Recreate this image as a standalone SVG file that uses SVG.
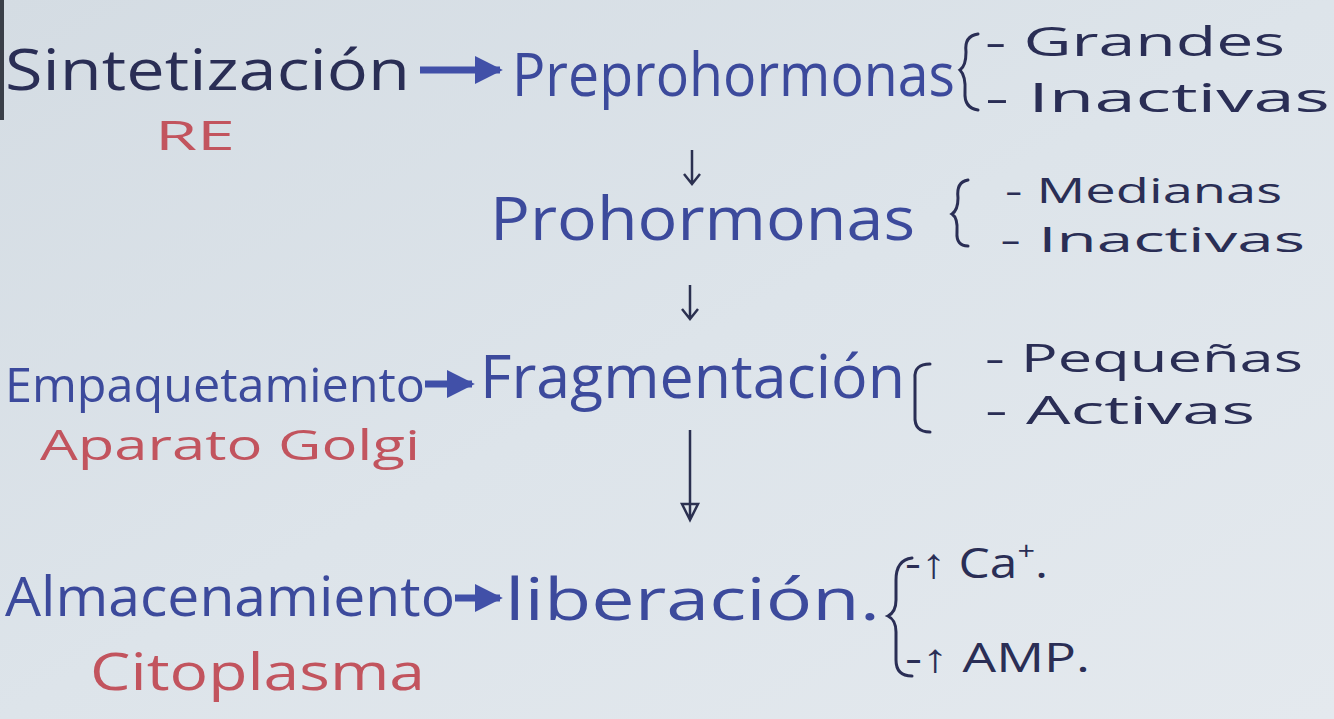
<svg xmlns="http://www.w3.org/2000/svg" width="1334" height="719" viewBox="0 0 1334 719">
<defs>
<linearGradient id="bg" x1="0" y1="0" x2="1" y2="1">
<stop offset="0" stop-color="#d4dce3"/>
<stop offset="0.5" stop-color="#dde4ea"/>
<stop offset="1" stop-color="#e4e9ee"/>
</linearGradient>
<marker id="fat" viewBox="0 0 10 10" refX="9" refY="5" markerWidth="4" markerHeight="4" orient="auto" markerUnits="strokeWidth">
<path d="M0,0 L10,5 L0,10 Z" fill="#4150a8"/>
</marker>
</defs>
<style>
text{font-family:"Open Sans","Liberation Sans",sans-serif;}
.dark{fill:#2a2e55;}
.blue{fill:#3c4a9c;}
.red{fill:#c2545e;}
.br{fill:none;stroke:#2a2e55;stroke-width:3;stroke-linecap:round;}
.hz{stroke:#4150a8;stroke-width:7;fill:none;marker-end:url(#fat);}
.vt{stroke:#2b3050;stroke-width:2.5;fill:none;}
</style>
<rect width="1334" height="719" fill="url(#bg)"/>
<rect x="0" y="0" width="4" height="120" fill="#3a3f48"/>

<g id="connectors">
<line class="hz" x1="420" y1="70" x2="500" y2="70"/>
<line class="hz" x1="425" y1="384" x2="472" y2="384"/>
<line class="hz" x1="455" y1="598" x2="500" y2="598"/>
<path class="vt" d="M692 150 V183 M684 174 L692 184 L700 174"/>
<path class="vt" d="M690 285 V318 M682 309 L690 319 L698 309"/>
<path class="vt" d="M690 430 V518 M682 504 L690 520 L698 504 Z"/>
</g>

<g id="sintetizacion">
<text class="dark" x="5" y="90" font-size="56" textLength="405" lengthAdjust="spacingAndGlyphs">Sintetización</text>
<text class="red" x="155" y="150" font-size="40" textLength="80" lengthAdjust="spacingAndGlyphs">RE</text>
</g>

<g id="preprohormonas">
<text class="blue" x="512" y="96" font-size="60" textLength="443" lengthAdjust="spacingAndGlyphs">Preprohormonas</text>
<path class="br" d="M978 34 Q964 36 966 52 Q966 66 960 70 Q966 76 965 92 Q964 108 978 110"/>
<text class="dark" x="985" y="56" font-size="40" textLength="300" lengthAdjust="spacingAndGlyphs">- Grandes</text>
<text class="dark" x="985" y="112" font-size="40" textLength="345" lengthAdjust="spacingAndGlyphs">- Inactivas</text>
</g>

<g id="prohormonas">
<text class="blue" x="490" y="240" font-size="60" textLength="425" lengthAdjust="spacingAndGlyphs">Prohormonas</text>
<path class="br" d="M968 180 Q956 182 958 198 Q958 210 952 214 Q958 218 957 232 Q956 246 968 246"/>
<text class="dark" x="1005" y="203" font-size="35" textLength="277" lengthAdjust="spacingAndGlyphs">- Medianas</text>
<text class="dark" x="1000" y="252" font-size="35" textLength="305" lengthAdjust="spacingAndGlyphs">- Inactivas</text>
</g>

<g id="fragmentacion">
<text class="blue" x="5" y="402" font-size="48" textLength="420" lengthAdjust="spacingAndGlyphs">Empaquetamiento</text>
<text class="red" x="40" y="460" font-size="42" textLength="380" lengthAdjust="spacingAndGlyphs">Aparato Golgi</text>
<text class="blue" x="480" y="398" font-size="60" textLength="425" lengthAdjust="spacingAndGlyphs">Fragmentación</text>
<path class="br" d="M930 364 Q914 364 915 378 V416 Q914 432 930 432"/>
<text class="dark" x="985" y="372" font-size="38" textLength="318" lengthAdjust="spacingAndGlyphs">- Pequeñas</text>
<text class="dark" x="985" y="424" font-size="38" textLength="270" lengthAdjust="spacingAndGlyphs">- Activas</text>
</g>

<g id="liberacion">
<text class="blue" x="5" y="616" font-size="54" textLength="450" lengthAdjust="spacingAndGlyphs">Almacenamiento</text>
<text class="red" x="90" y="690" font-size="52" textLength="335" lengthAdjust="spacingAndGlyphs">Citoplasma</text>
<text class="blue" x="505" y="620" font-size="58" textLength="375" lengthAdjust="spacingAndGlyphs">liberación.</text>
<path class="br" d="M912 558 Q896 560 896 580 V600 Q896 612 888 616 Q896 620 896 632 V660 Q896 676 912 676"/>
<text class="dark" x="905" y="578" font-size="42" textLength="143" lengthAdjust="spacingAndGlyphs">-↑ Ca<tspan font-size="26" dy="-18">+</tspan><tspan dy="18">.</tspan></text>
<text class="dark" x="905" y="672" font-size="40" textLength="185" lengthAdjust="spacingAndGlyphs">-↑ AMP.</text>
</g>
</svg>
